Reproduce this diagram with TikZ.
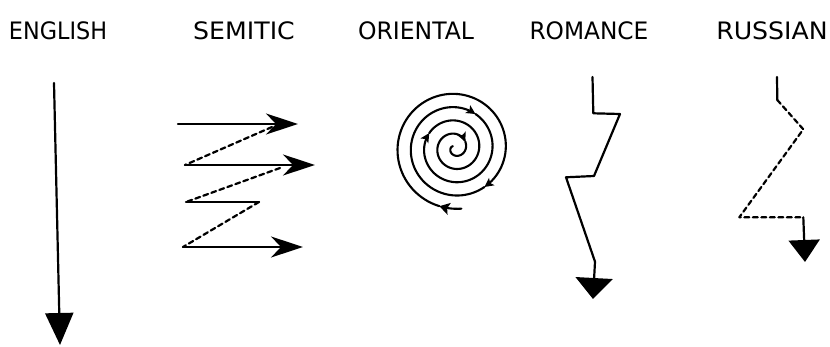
\documentclass[tikz,border=0pt]{standalone}
\usepackage{fontspec}
\setmainfont{DejaVu Sans}
\usetikzlibrary{arrows.meta}
\begin{document}
\begin{tikzpicture}[x=1pt,y=-1pt,
  lbl/.style={anchor=base,inner sep=0pt,font=\fontsize{24}{24}\selectfont},
  ln/.style={line width=2.2pt,line cap=round,line join=round},
  dsh/.style={ln,dash pattern=on 5pt off 3.5pt},
  semarrow/.style={-{Stealth[length=32pt,width=21pt,inset=10pt]}},
  spiral/.style={line width=2.1pt,line cap=round},
  spt/.style={-{Stealth[length=9pt,width=9pt,inset=2pt]}},
  declare function={spr(\t)=61-0.036944*\t;}]
\useasboundingbox (0,0) rectangle (830,347);
% labels
\node[lbl] (english)  at (58,40)  {\scalebox{0.93}[1]{ENGLISH}};
\node[lbl] (semitic)  at (244,40) {\scalebox{1.05}[1]{SEMITIC}};
\node[lbl] (oriental) at (416,40) {\scalebox{0.98}[1]{ORIENTAL}};
\node[lbl] (romance)  at (589,40) {\scalebox{0.97}[1]{ROMANCE}};
\node[lbl] (russian)  at (772,40) {\scalebox{1.05}[1]{RUSSIAN}};
% English
\coordinate (e0) at (54,83);
\coordinate (e1) at (60,345);
\draw[ln,-{Triangle[length=32pt,width=28pt]}] (e0) -- (e1);
% Semitic
\coordinate (s1a) at (178,124); \coordinate (s1b) at (298,124);
\coordinate (d1a) at (272,127); \coordinate (s2a) at (185,165);
\coordinate (s2b) at (315,165);
\coordinate (d2a) at (280,168); \coordinate (s3a) at (186,202);
\coordinate (s3b) at (259,202); \coordinate (s4a) at (183,247);
\coordinate (s4b) at (303,247);
\draw[ln,semarrow] (s1a) -- (s1b);
\draw[dsh] (d1a) -- (s2a);
\draw[ln,semarrow] (s2a) -- (s2b);
\draw[dsh] (d2a) -- (s3a);
\draw[ln] (s3a) -- (s3b);
\draw[dsh] (s3b) -- (s4a);
\draw[ln,semarrow] (s4a) -- (s4b);
% Oriental spiral
\draw[spiral,-{Stealth[length=10pt,width=12pt,inset=2pt]}] plot[domain=0:21,samples=8] ({455+spr(\x)*cos(84+\x)},{148+spr(\x)*sin(84+\x)});
\draw[spiral,spt] plot[domain=21:329,samples=80] ({455+spr(\x)*cos(84+\x)},{148+spr(\x)*sin(84+\x)});
\draw[spiral,spt] plot[domain=329:577,samples=70] ({455+spr(\x)*cos(84+\x)},{148+spr(\x)*sin(84+\x)});
\draw[spiral,spt] plot[domain=577:846,samples=70] ({455+spr(\x)*cos(84+\x)},{148+spr(\x)*sin(84+\x)});
\draw[spiral,spt] plot[domain=846:1324,samples=120] ({455+spr(\x)*cos(84+\x)},{148+spr(\x)*sin(84+\x)});
\draw[spiral] plot[domain=1324:1575,samples=70] ({455+spr(\x)*cos(84+\x)},{148+spr(\x)*sin(84+\x)});
% Romance
\coordinate (r0) at (592.5,77); \coordinate (r1) at (593.3,113.3);
\coordinate (r2) at (620,114);  \coordinate (r3) at (594,176);
\coordinate (r4) at (566,177.3); \coordinate (r5) at (595,261.7);
\coordinate (r6) at (593,299);
\draw[ln] (r0) -- (r1) -- (r2) -- (r3) -- (r4) -- (r5);
\draw[ln,-{Triangle[length=21pt,width=37pt]}] (r5) -- (r6);
% Russian
\coordinate (u0) at (777,77); \coordinate (u1) at (777.3,100);
\coordinate (u2) at (803.3,129.3); \coordinate (u3) at (739.3,217.3);
\coordinate (u4) at (803.3,217.3); \coordinate (u5) at (805,262);
\draw[ln] (u0) -- (u1);
\draw[dsh] (u1) -- (u2) -- (u3) -- (u4);
\draw[ln,-{Triangle[length=22pt,width=31pt]}] (u4) -- (u5);
\end{tikzpicture}
\end{document}
